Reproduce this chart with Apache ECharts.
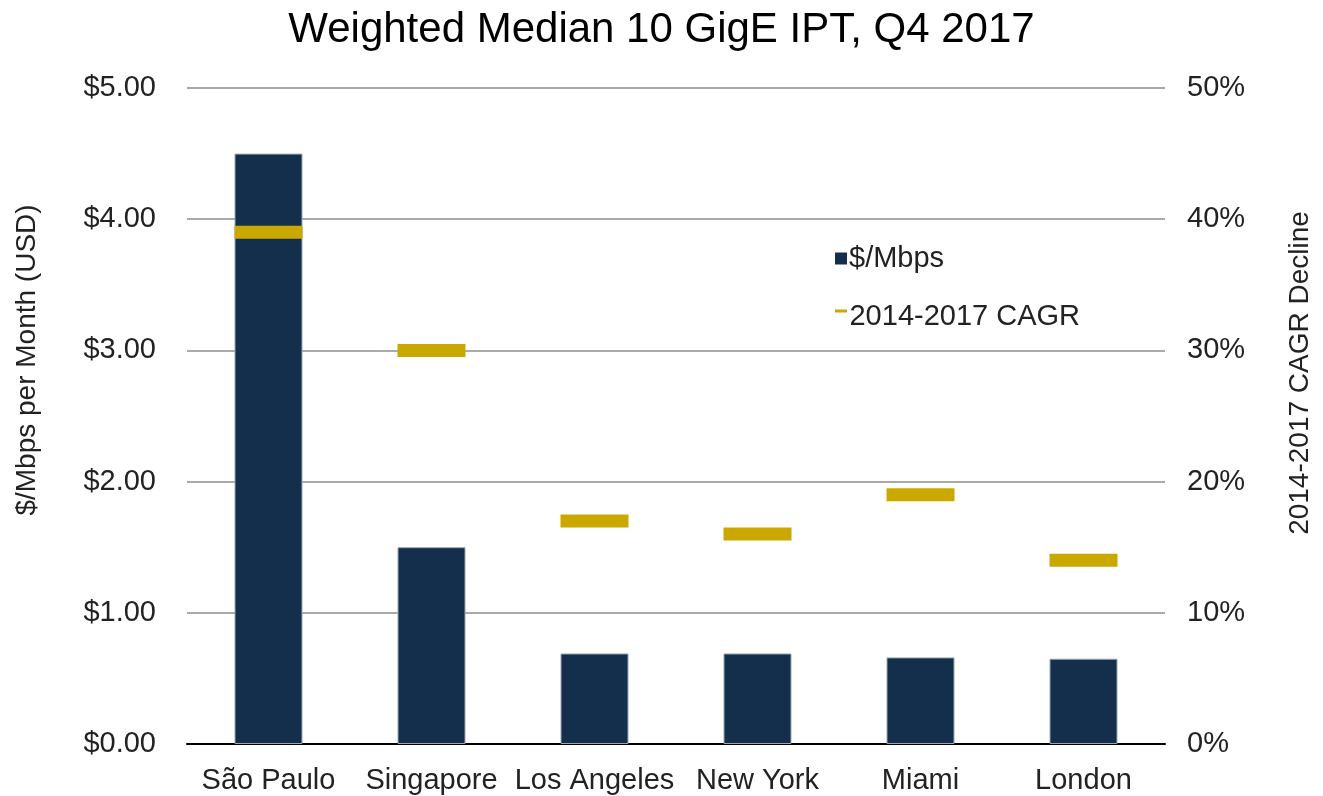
<!DOCTYPE html>
<html>
<head>
<meta charset="utf-8">
<script src="https://cdn.jsdelivr.net/npm/echarts@6/dist/echarts.min.js"></script>
<style>
  html, body { margin: 0; padding: 0; background: #fff; }
  #chart { width: 1323px; height: 796px; }
</style>
</head>
<body>
<div id="chart"></div>
<script>
// data
const cities = ['São Paulo', 'Singapore', 'Los Angeles', 'New York', 'Miami', 'London']
const pricePerMbps = [4.5, 1.5, 0.69, 0.69, 0.66, 0.65]
const cagrDecline = [39, 30, 17, 16, 19, 14]

const font = 'Liberation Sans, Arial, Helvetica, sans-serif'
const navy = '#142f4c'
const gold = '#cba800'

const chart = echarts.init(document.getElementById('chart'))

chart.setOption({
  backgroundColor: '#fff',
  textStyle: { fontFamily: font },
  title: {
    text: 'Weighted Median 10 GigE IPT, Q4 2017',
    left: 'center',
    top: 4,
    textStyle: { fontSize: 42, fontWeight: 'normal', color: '#000', fontFamily: font }
  },
  legend: [
    {
      data: ['$/Mbps'],
      left: 830,
      top: 239,
      icon: 'rect',
      itemWidth: 12,
      itemHeight: 12,
      itemGap: 6,
      itemStyle: { borderWidth: 0 },
      textStyle: { fontSize: 29, color: '#222', padding: [0, 0, 0, -3] }
    },
    {
      data: ['2014-2017 CAGR'],
      left: 830,
      top: 297,
      // short dash sitting high, like the reference key
      icon: 'path://M0,0h12v3h-12zM0,14h0.01v0.01h-0.01z',
      itemWidth: 13,
      itemHeight: 14,
      itemStyle: { borderWidth: 0 },
      textStyle: { fontSize: 29, color: '#222', padding: [0, 0, 0, -3] }
    }
  ],
  grid: { left: 187, right: 158, top: 88, bottom: 52 },
  xAxis: {
    type: 'category',
    data: cities,
    axisLine: { lineStyle: { color: '#000', width: 2 } },
    axisTick: { show: false },
    axisLabel: { fontSize: 29, color: '#222', margin: 22, interval: 0 }
  },
  yAxis: [
    {
      type: 'value',
      min: 0,
      max: 5,
      interval: 1,
      name: '$/Mbps per Month (USD)',
      nameLocation: 'middle',
      nameGap: 146,
      nameTextStyle: { fontSize: 28, color: '#222', padding: [0, 0, 0, 112] },
      axisLabel: {
        fontSize: 29,
        color: '#222',
        margin: 31,
        formatter: v => '$' + v.toFixed(2)
      },
      splitLine: { lineStyle: { color: '#aaa', width: 2 } },
      axisLine: { show: false },
      axisTick: { show: false }
    },
    {
      type: 'value',
      min: 0,
      max: 50,
      interval: 10,
      name: '2014-2017 CAGR Decline',
      nameLocation: 'middle',
      nameGap: 121,
      nameTextStyle: { fontSize: 28, color: '#222', padding: [0, 0, 0, 86] },
      axisLabel: {
        fontSize: 29,
        color: '#222',
        margin: 22,
        formatter: '{value}%'
      },
      splitLine: { show: false },
      axisLine: { show: false },
      axisTick: { show: false }
    }
  ],
  series: [
    {
      name: '$/Mbps',
      type: 'bar',
      data: pricePerMbps,
      barWidth: 68,
      itemStyle: { color: navy, borderColor: '#9aa6b3', borderWidth: 1 },
      z: 2
    },
    {
      name: '2014-2017 CAGR',
      type: 'scatter',
      yAxisIndex: 1,
      data: cagrDecline,
      symbol: 'rect',
      symbolSize: [68, 13],
      itemStyle: { color: gold, opacity: 1 },
      z: 3
    }
  ]
})
</script>
</body>
</html>
